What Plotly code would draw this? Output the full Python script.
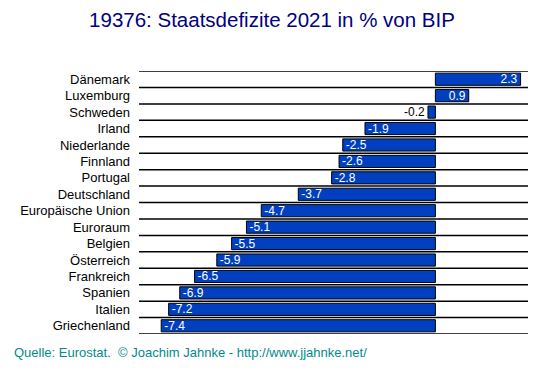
import plotly.graph_objects as go

categories = ["Dänemark", "Luxemburg", "Schweden", "Irland", "Niederlande", "Finnland",
              "Portugal", "Deutschland", "Europäische Union", "Euroraum", "Belgien",
              "Österreich", "Frankreich", "Spanien", "Italien", "Griechenland"]
values = [2.3, 0.9, -0.2, -1.9, -2.5, -2.6, -2.8, -3.7, -4.7, -5.1, -5.5, -5.9,
          -6.5, -6.9, -7.2, -7.4]
title_text = "19376: Staatsdefizite 2021 in % von BIP"
source_text = "Quelle: Eurostat.&nbsp; © Joachim Jahnke - http://www.jjahnke.net/"

fig = go.Figure()
fig.add_trace(go.Bar(
    y=categories, x=values, orientation="h",
    marker=dict(color="#0040C0", line=dict(color="black", width=1)),
    width=0.74,
    text=[f"{v:.1f}" for v in values],
    textposition="auto",
    insidetextanchor="end",
    insidetextfont=dict(color="white", size=12, family="Arial, Liberation Sans"),
    outsidetextfont=dict(color="black", size=12, family="Arial, Liberation Sans"),
    textangle=0,
    cliponaxis=False,
    hoverinfo="skip",
))

shapes = []
for i in range(len(categories) + 1):
    shapes.append(dict(type="line", xref="paper", x0=0, x1=1, yref="y",
                       y0=i - 0.5, y1=i - 0.5, line=dict(color="black", width=1.5),
                       layer="below"))

fig.update_layout(
    width=545, height=368,
    margin=dict(l=131, r=25, t=63, b=42, autoexpand=False),
    paper_bgcolor="white", plot_bgcolor="white",
    showlegend=False,
    title=dict(text=title_text, x=(272 - 8) / 545, xanchor="center", y=0.968, yanchor="middle",
               font=dict(family="Arial, Liberation Sans", size=20.5, color="#000080")),
    xaxis=dict(range=[-8, 2.5], visible=False, fixedrange=True, automargin=False),
    yaxis=dict(categoryorder="array", categoryarray=categories,
               showgrid=False, zeroline=False, showline=False, automargin=False,
               ticks="", ticklabelstandoff=8,
               tickfont=dict(family="Arial, Liberation Sans", size=13, color="black")),
    shapes=shapes,
    uniformtext=dict(mode="show", minsize=12),
    annotations=[dict(text=source_text, xref="paper", yref="paper", x=-127/389,
                      y=0, yshift=-18, xanchor="left", yanchor="middle", showarrow=False,
                      font=dict(family="Arial, Liberation Sans", size=13, color="#008B8B"))],
)
fig.update_yaxes(range=[15.5, -0.5], autorange=False)

fig.write_html("out.html")
